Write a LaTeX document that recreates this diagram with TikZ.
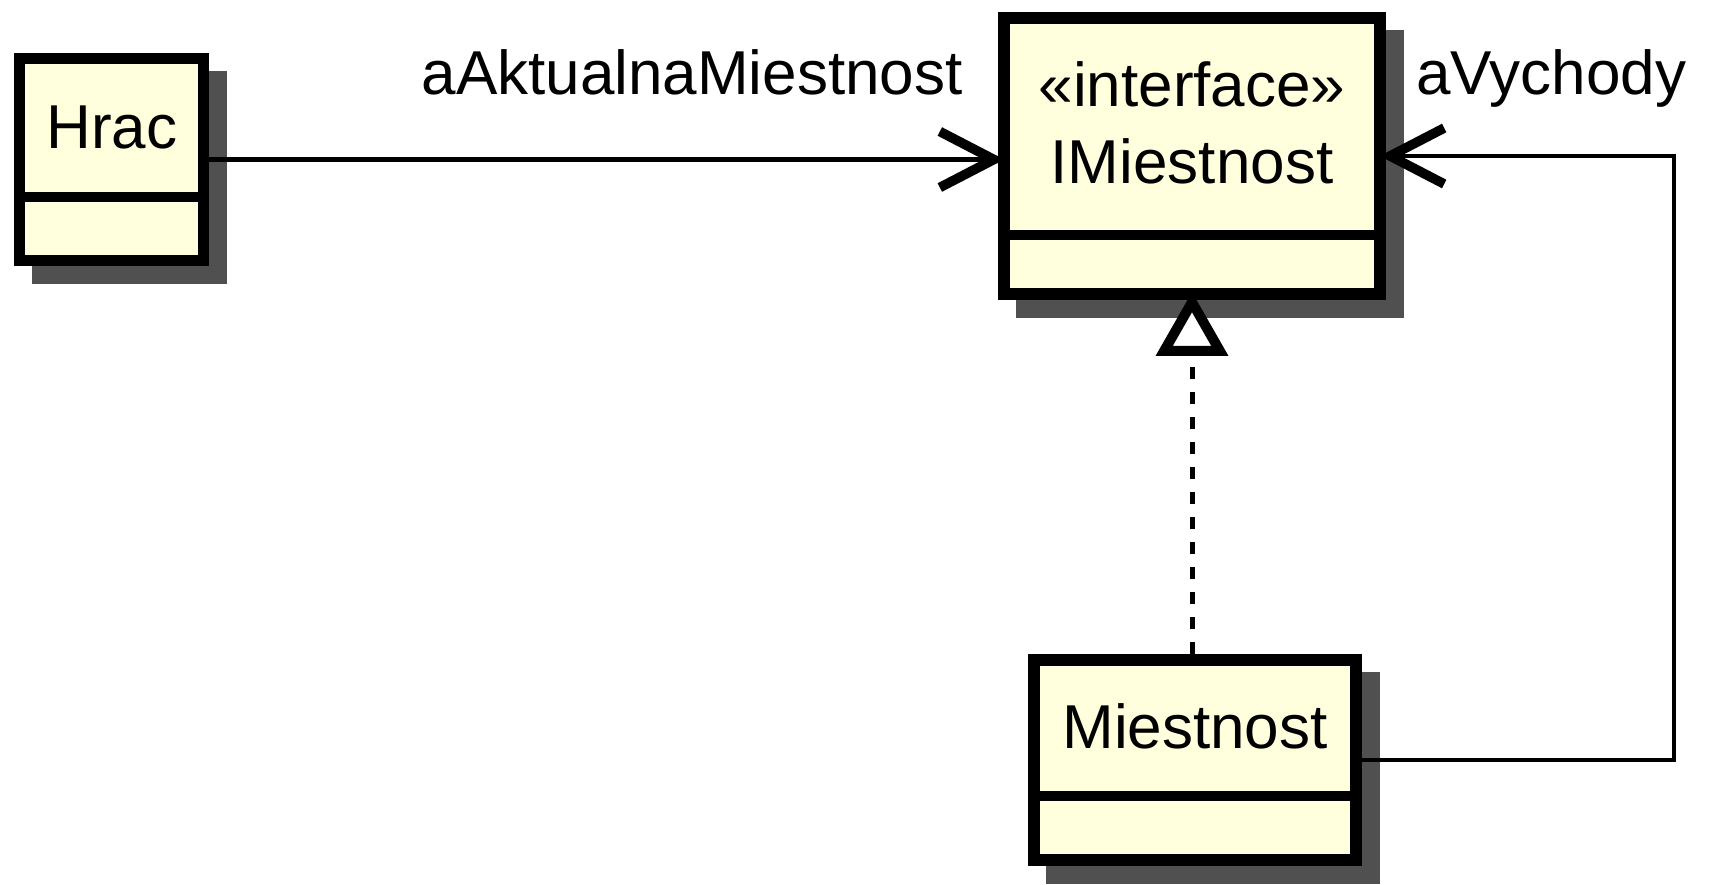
\documentclass[tikz,border=0pt]{standalone}
\usepackage{fontspec}
\setmainfont{Liberation Sans}
\usetikzlibrary{arrows.meta}
\definecolor{classfill}{HTML}{FFFFDD}
\definecolor{shadowgray}{HTML}{505050}
\tikzset{
  txt/.style={font=\fontsize{31}{37}\selectfont, inner sep=0pt},
  classbox/.style={draw=black, fill=classfill, line width=5.75pt, inner sep=0pt},
  sep/.style={line width=5pt},
  shadowbox/.style={fill=shadowgray},
  assoc/.style={line width=2.2pt, shorten >=-3pt, -{Straight Barb[length=27pt, width=28pt, line width=4.8pt]}},
  realize/.style={line width=2.5pt, dash pattern=on 6pt off 6.5pt, shorten >=-4pt,
     -{Triangle[length=32pt, width=35pt, line width=5pt, fill=white]}},
}
\begin{document}
\begin{tikzpicture}[x=0.5pt, y=-0.5pt]
\useasboundingbox (0,0) rectangle (1712,884);
% shadows
\fill[shadowbox] (32,71) rectangle (227,284);
\fill[shadowbox] (1016,30) rectangle (1404,318);
\fill[shadowbox] (1046,672) rectangle (1380,884);
% boxes
\node[classbox, minimum width=92pt, minimum height=101pt] (hrac) at (111.5,159.5) {};
\node[classbox, minimum width=188pt, minimum height=138pt] (im) at (1192,156) {};
\node[classbox, minimum width=161pt, minimum height=100pt] (m) at (1195,760) {};
% separators
\draw[sep] (19.5,197) -- (203.5,197);
\draw[sep] (1004,235) -- (1380,235);
\draw[sep] (1034,796) -- (1356,796);
% texts
\node[txt, anchor=base] (thrac) at (112,148) {Hrac};
\node[txt, anchor=base] (tst) at (1192,106) {«interface»};
\node[txt, anchor=base] (tim) at (1192,183) {IMiestnost};
\node[txt, anchor=base] (tm) at (1195,748) {Miestnost};
\node[txt, anchor=base east] (lakt) at (963,94) {aAktualnaMiestnost};
\node[txt, anchor=base west] (lvych) at (1416,94) {aVychody};
% connectors
\draw[assoc] (hrac.east) -- (hrac.east -| im.west);
\coordinate (rc) at (1674,500);
\draw[assoc] (m.east) -| (rc) |- (im.east);
\draw[realize] (m.north -| im.south) -- (im.south);
\end{tikzpicture}
\end{document}
